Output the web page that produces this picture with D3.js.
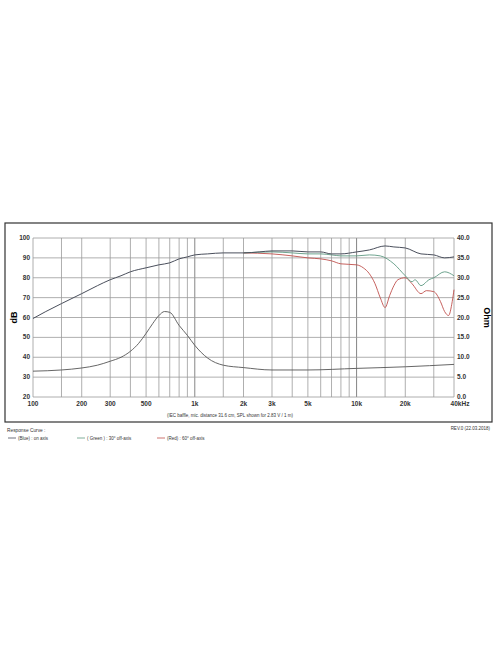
<!DOCTYPE html>
<html><head><meta charset="utf-8">
<script src="https://cdn.jsdelivr.net/npm/d3@7"></script>
<style>body{margin:0;background:#fff;font-family:"Liberation Sans",Arial,sans-serif}</style>
</head><body>
<svg id="c" width="496" height="664"></svg>
<script>
// on axis SPL [Hz, dB]
var onAxis = [[100,59.5],[120,63],[150,67],[200,72],[250,76],[300,79],[350,81],[400,83],[500,85],[600,86.5],[700,87.5],[800,89.5],[900,90.5],[1000,91.5],[1200,92],[1500,92.5],[2000,92.5],[2500,93],[3000,93.5],[4000,93.5],[5000,93],[6000,93],[7000,92],[8000,92],[10000,93],[12000,94],[15000,96],[17000,95.5],[20000,95],[25000,92],[30000,91.5],[35000,90],[40000,90.5]];
var green30 = [[2000,92.5],[3000,93],[4000,92.5],[5000,92],[6000,92],[7000,91.5],[8000,91],[10000,91],[12000,91.5],[14000,91],[17000,87],[20000,81],[22000,78],[23000,79],[25000,76],[28000,79],[30000,80],[35000,83],[40000,81]];
var red60 = [[2000,92.5],[3000,92],[4000,91],[5000,90],[6000,89.5],[7000,88.5],[8000,87],[10000,86.5],[11000,85],[12000,82],[13000,77],[14000,70],[15000,65],[16000,71],[17000,76],[18000,79],[20000,80],[22000,77],[25000,72],[27000,73.5],[30000,73],[33000,68],[35000,63],[37000,61],[39000,68],[40000,74]];
// impedance [Hz, Ohm]
var imped = [[100,6.5],[150,6.8],[200,7.3],[250,8],[300,9],[350,10],[400,11.5],[450,13.5],[500,16],[550,18.5],[600,20.5],[650,21.5],[700,21.3],[800,18],[900,15.5],[1000,13],[1200,9.8],[1500,8],[2000,7.4],[3000,6.8],[5000,6.8],[10000,7.2],[20000,7.6],[40000,8.2]];
var dbTicks = [20,30,40,50,60,70,80,90,100];
var ohmTicks = [0,5,10,15,20,25,30,35,40];
var freqLabels = [[100,"100"],[200,"200"],[300,"300"],[500,"500"],[1000,"1k"],[2000,"2k"],[3000,"3k"],[5000,"5k"],[10000,"10k"],[20000,"20k"],[40000,"40kHz"]];
var gridFreqs = [100,150,200,300,400,500,600,700,800,900,1000,1500,2000,3000,4000,5000,6000,7000,8000,9000,10000,15000,20000,30000,40000];

var svg = d3.select("#c");
var L = 33, R = 454, T = 238, B = 397;
var x = d3.scaleLog().domain([100,40000]).range([L,R]);
var y = d3.scaleLinear().domain([20,100]).range([B,T]);
var y2 = d3.scaleLinear().domain([0,40]).range([B,T]);

svg.append("rect").attr("x",5).attr("y",223).attr("width",487).attr("height",199)
  .attr("fill","none").attr("stroke","#333").attr("stroke-width",1.2);

var g = svg.append("g");
g.selectAll(".vx").data(gridFreqs).enter().append("line")
  .attr("x1",d=>x(d)).attr("x2",d=>x(d)).attr("y1",T).attr("y2",B)
  .attr("stroke",d=>[1000,10000].indexOf(d)>=0?"#666":"#9a9a9a").attr("stroke-width",0.8);
g.selectAll(".hy").data(dbTicks).enter().append("line")
  .attr("x1",L).attr("x2",R).attr("y1",d=>y(d)).attr("y2",d=>y(d))
  .attr("stroke","#9a9a9a").attr("stroke-width",0.8);

var fs = 6.5;
g.selectAll(".dl").data(dbTicks).enter().append("text")
  .attr("x",L-3).attr("y",d=>y(d)+2).attr("text-anchor","end")
  .attr("font-size",fs).attr("font-weight","bold").attr("fill","#333").text(d=>d);
g.selectAll(".ol").data(ohmTicks).enter().append("text")
  .attr("x",R+3).attr("y",d=>y2(d)+2).attr("font-size",fs).attr("font-weight","bold")
  .attr("fill","#333").text(d=>d.toFixed(1));
g.selectAll(".fl").data(freqLabels).enter().append("text")
  .attr("x",d=>x(d[0])).attr("y",B+9).attr("text-anchor",d=>d[0]==40000?"middle":"middle")
  .attr("dx",d=>d[0]==40000?6:0)
  .attr("font-size",fs).attr("font-weight","bold").attr("fill","#333").text(d=>d[1]);

svg.append("text").attr("transform","translate(17,"+((T+B)/2)+") rotate(-90)")
  .attr("text-anchor","middle").attr("font-size",9).attr("font-weight","bold").text("dB");
svg.append("text").attr("transform","translate(484,"+((T+B)/2)+") rotate(90)")
  .attr("text-anchor","middle").attr("font-size",9).attr("font-weight","bold").text("Ohm");

var line = d3.line().x(d=>x(d[0])).y(d=>y(d[1])).curve(d3.curveMonotoneX);
var line2 = d3.line().x(d=>x(d[0])).y(d=>y2(d[1])).curve(d3.curveMonotoneX);
g.append("path").attr("d",line2(imped)).attr("fill","none").attr("stroke","#555").attr("stroke-width",0.9);
g.append("path").attr("d",line(red60)).attr("fill","none").attr("stroke","#c0504d").attr("stroke-width",0.9);
g.append("path").attr("d",line(green30)).attr("fill","none").attr("stroke","#5f9a82").attr("stroke-width",0.9);
g.append("path").attr("d",line(onAxis)).attr("fill","none").attr("stroke","#4a4f5c").attr("stroke-width",1);

svg.append("text").attr("x",230).attr("y",417).attr("text-anchor","middle").attr("font-size",4.5).attr("fill","#333")
  .text("(IEC baffle, mic. distance 31.6 cm, SPL shown for 2.83 V / 1 m)");
svg.append("text").attr("x",7).attr("y",432).attr("font-size",4.8).attr("fill","#333").text("Response Curve :");
svg.append("text").attr("x",490).attr("y",430).attr("text-anchor","end").attr("font-size",4.5).attr("fill","#333").text("REV.0 (22.03.2018)");
var legend = [["(Blue)  : on axis","#4a4f5c",8],["( Green ) : 30° off-axis","#5f9a82",77],["(Red) : 60° off-axis","#c0504d",157]];
legend.forEach(function(l){
  svg.append("line").attr("x1",l[2]).attr("x2",l[2]+8).attr("y1",438).attr("y2",438).attr("stroke",l[1]).attr("stroke-width",0.8);
  svg.append("text").attr("x",l[2]+10).attr("y",440).attr("font-size",4.5).attr("fill","#333").text(l[0]);
});
</script>
</body></html>
